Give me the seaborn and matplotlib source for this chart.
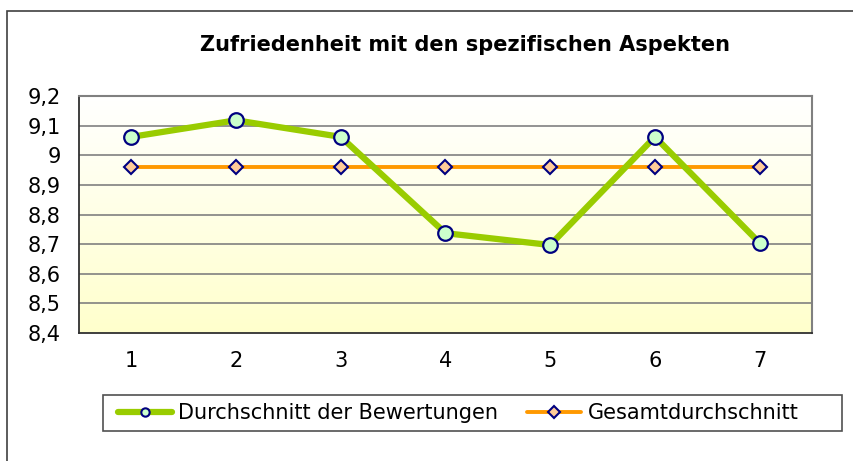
import numpy as np
import matplotlib
matplotlib.use("Agg")
import matplotlib.pyplot as plt
from matplotlib.lines import Line2D
from matplotlib.patches import Rectangle
import seaborn as sns

# Data
aspects = [1, 2, 3, 4, 5, 6, 7]
avg_ratings = [9.062, 9.118, 9.062, 8.737, 8.697, 9.062, 8.704]
overall_avg = [8.96, 8.96, 8.96, 8.96, 8.96, 8.96, 8.96]
y_ticks = [8.4, 8.5, 8.6, 8.7, 8.8, 8.9, 9.0, 9.1, 9.2]

sns.set_style("white")
plt.rcParams["font.family"] = ["DejaVu Sans"]
plt.rcParams["text.color"] = "black"
plt.rcParams["xtick.color"] = "black"
plt.rcParams["ytick.color"] = "black"

fig = plt.figure(figsize=(8.54, 4.61), dpi=100)
ax = fig.add_axes([79 / 854, 128 / 461, 733 / 854, 237 / 461])

# outer chart frame (only left and top visible in the crop)
fig.patches.append(Rectangle((7 / 854, -0.1), 1.2, (461 - 11) / 461 + 0.1,
                             transform=fig.transFigure, fill=False,
                             edgecolor="#404040", linewidth=1.2))

# gradient background: white at top to pale yellow at bottom
grad = np.linspace(0, 1, 256).reshape(-1, 1)
top = np.array([1.0, 1.0, 1.0])
bottom = np.array([1.0, 1.0, 0.8])
img = top + (bottom - top) * grad[..., None]
ax.imshow(img, extent=[0.5, 7.5, 8.4, 9.2], aspect="auto", zorder=0)

for v in y_ticks[1:-1]:
    ax.axhline(v, color="#808080", linewidth=1.2, zorder=1)

sns.lineplot(x=aspects, y=avg_ratings, ax=ax, color="#99CC00", linewidth=4.5,
             marker="o", markersize=10.5, markerfacecolor="#CCFFCC",
             markeredgecolor="#000080", markeredgewidth=1.6, zorder=4)
sns.lineplot(x=aspects, y=overall_avg, ax=ax, color="#FF9900", linewidth=2.8,
             marker="D", markersize=7, markerfacecolor="#FFCC99",
             markeredgecolor="#000080", markeredgewidth=1.5, zorder=3)

ax.set_xlim(0.5, 7.5)
ax.set_ylim(8.4, 9.2)
ax.set_yticks(y_ticks)
ax.set_yticklabels([f"{v:g}".replace(".", ",") for v in y_ticks], fontsize=15)
ax.set_xticks(np.arange(0.5, 8, 1))
ax.set_xticklabels([])
ax.set_xticks(aspects, minor=True)
ax.set_xticklabels([str(a) for a in aspects], minor=True, fontsize=15)
ax.tick_params(axis="x", which="major", direction="out", length=5, color="#404040", width=1.2)
ax.tick_params(axis="x", which="minor", length=0, pad=13)
ax.tick_params(axis="y", direction="out", length=5, color="#404040", width=1.2, pad=8)
ax.set_xlabel("")
ax.set_ylabel("")

for s in ["left", "bottom"]:
    ax.spines[s].set_color("#303030")
    ax.spines[s].set_linewidth(1.3)
for s in ["top", "right"]:
    ax.spines[s].set_color("#808080")
    ax.spines[s].set_linewidth(1.5)

fig.text(465 / 854, (461 - 45) / 461, "Zufriedenheit mit den spezifischen Aspekten",
         ha="center", va="center", fontsize=15, fontweight="bold")

# legend with its own frame
fig.patches.append(Rectangle((103 / 854, 30 / 461), 739 / 854, 36 / 461,
                             transform=fig.transFigure, fill=True, facecolor="white",
                             edgecolor="#505050", linewidth=1.2))
handles = [
    Line2D([], [], color="#99CC00", linewidth=4.5, marker="o", markersize=6,
           markerfacecolor="#CCFFCC", markeredgecolor="#000080", markeredgewidth=1.5),
    Line2D([], [], color="#FF9900", linewidth=2.8, marker="D", markersize=6,
           markerfacecolor="#FFCC99", markeredgecolor="#000080", markeredgewidth=1.5),
]
fig.legend(handles, ["Durchschnitt der Bewertungen", "Gesamtdurchschnitt"],
           loc="center left", bbox_to_anchor=(103 / 854, 48 / 461), ncol=2,
           frameon=False, fontsize=15, handlelength=2.6, handletextpad=0.3,
           columnspacing=1.4, borderpad=0.2)

fig.savefig("out.png", dpi=100)
